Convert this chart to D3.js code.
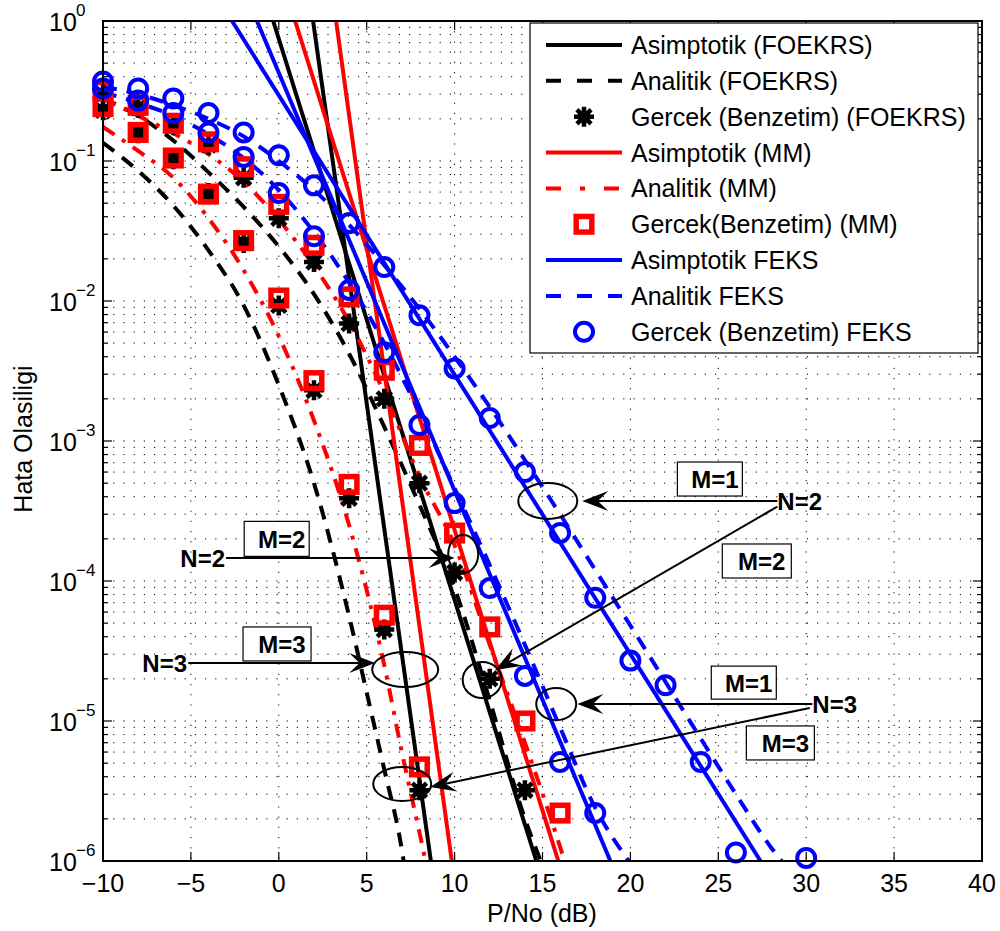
<!DOCTYPE html>
<html>
<head>
<meta charset="utf-8">
<script src="https://cdn.jsdelivr.net/npm/d3@7"></script>
<style>
body { margin: 0; background: #fff; }
text { font-family: "Liberation Sans", Arial, Helvetica, sans-serif; }
</style>
</head>
<body>
<div id="chart"></div>
<script>
// axis ticks
var xTicks = [-10, -5, 0, 5, 10, 15, 20, 25, 30, 35, 40];
var yDecades = [0, -1, -2, -3, -4, -5, -6];

// simulation markers, x = snr[i]
var snr = [-10, -8, -6, -4, -2, 0, 2, 4, 6, 8, 10, 12, 14, 16, 18, 20, 22, 24, 26, 28, 30];
var simFoekrsN2 = [0.3, 0.24, 0.18, 0.13, 0.076, 0.039, 0.019, 0.0069, 0.002, 0.0005, 1.15e-4, 2e-5, 3.2e-6];
var simFoekrsN3 = [0.23, 0.158, 0.103, 0.059, 0.026, 0.0093, 0.0023, 3.9e-4, 4.5e-5, 3.2e-6];
var simMmN2 = [0.32, 0.25, 0.186, 0.137, 0.091, 0.049, 0.025, 0.0107, 0.0032, 9.3e-4, 2.2e-4, 4.7e-5, 1e-5, 2.2e-6];
var simMmN3 = [0.245, 0.16, 0.105, 0.058, 0.027, 0.0105, 0.0027, 4.9e-4, 5.7e-5, 4.7e-6];
var simFeksN2 = [0.37, 0.33, 0.28, 0.22, 0.16, 0.11, 0.067, 0.036, 0.0175, 0.0079, 0.0033, 0.00146, 6e-4, 2.2e-4, 7.6e-5, 2.7e-5, 1.8e-5, 5.1e-6, 1.15e-6, null, 1.05e-6];
var simFeksN3 = [0.33, 0.27, 0.22, 0.16, 0.107, 0.059, 0.029, 0.012, 0.0043, 0.0013, 3.6e-4, 8.9e-5, 2.1e-5, 5.1e-6, 2.2e-6];

// analytic curves
var anaFoekrsN2X = [-10, -8, -6, -4, -2, 0, 2, 4, 6, 8, 10, 12, 14, 14.9];
var anaFoekrsN2 = [0.28, 0.21, 0.14, 0.083, 0.047, 0.0245, 0.0112, 0.0042, 0.00126, 3.5e-4, 8.9e-5, 1.4e-5, 2e-6, 1e-6];
var anaFoekrsN3X = [-10, -8, -6, -4, -2, 0, 2, 4, 5, 6, 7, 7.1];
var anaFoekrsN3 = [0.135, 0.085, 0.048, 0.023, 0.0093, 0.0025, 5e-4, 5.6e-5, 1.6e-5, 4.5e-6, 1.2e-6, 1e-6];
var anaMmN2X = [-10, -8, -6, -4, -2, 0, 2, 4, 6, 8, 10, 12, 14, 16, 16.25];
var anaMmN2 = [0.28, 0.21, 0.158, 0.112, 0.071, 0.038, 0.0178, 0.0071, 0.0022, 5.6e-4, 1.8e-4, 3.5e-5, 7e-6, 1.26e-6, 1e-6];
var anaMmN3X = [-10, -8, -6, -4, -2, 0, 2, 4, 6, 7, 8, 8.35];
var anaMmN3 = [0.175, 0.118, 0.076, 0.039, 0.0166, 0.0056, 0.0014, 2.5e-4, 2.5e-5, 6e-6, 1.6e-6, 1e-6];
var anaFeksN2X = [-10, -8, -6, -4, -2, 0, 2, 4, 6, 8, 10, 12, 14, 16, 18, 20, 22, 24, 26, 28, 28.6];
var anaFeksN2 = [0.34, 0.3, 0.25, 0.2, 0.15, 0.1, 0.062, 0.035, 0.018, 0.0088, 0.004, 0.00175, 7.3e-4, 3e-4, 1.2e-4, 4.8e-5, 1.9e-5, 7.5e-6, 3e-6, 1.25e-6, 1e-6];
var anaFeksN3X = [-10, -8, -6, -4, -2, 0, 2, 4, 6, 8, 10, 12, 14, 16, 18, 19.9];
var anaFeksN3 = [0.31, 0.26, 0.21, 0.155, 0.105, 0.062, 0.031, 0.0135, 0.005, 0.0016, 4.6e-4, 1.3e-4, 3.5e-5, 9e-6, 2.4e-6, 1e-6];

// asymptotes: x where the line crosses asymP
var asymP = [1, 1e-6];
var asymFoekrs = [[-0.32, 14.65], [1.95, 8.65]];
var asymMm = [[0.93, 15.9], [3.26, 9.84]];
var asymFeks = [[-2.66, 27.4], [-1.24, 18.86]];

var legendLabels = ["Asimptotik (FOEKRS)", "Analitik (FOEKRS)", "Gercek (Benzetim) (FOEKRS)",
  "Asimptotik (MM)", "Analitik (MM)", "Gercek(Benzetim) (MM)",
  "Asimptotik FEKS", "Analitik FEKS", "Gercek (Benzetim) FEKS"];

// annotations (data coords)
var noteTexts = [["N=2", -3.06, 1.46e-4, "end"], ["N=3", -5.22, 2.6e-5, "end"],
  ["N=2", 28.36, 3.73e-4, "start"], ["N=3", 30.35, 1.32e-5, "start"]];
var noteBoxes = [["M=2", -0.12, 2.0e-4, 65, 35], ["M=3", -0.1, 3.55e-5, 68, 34],
  ["M=1", 24.52, 5.35e-4, 65, 34], ["M=2", 27.19, 1.39e-4, 69, 34],
  ["M=1", 26.45, 1.88e-5, 65, 33], ["M=3", 28.53, 6.97e-6, 68, 34]];
var noteArrows = [[-3.0, 1.46e-4, 10.0, 1.46e-4], [-5.15, 2.6e-5, 5.48, 2.6e-5],
  [28.36, 3.73e-4, 17.26, 3.73e-4], [28.36, 3.4e-4, 12.31, 2.31e-5],
  [30.35, 1.32e-5, 16.98, 1.32e-5], [30.2, 1.24e-5, 8.61, 3.38e-6]];
var noteEllipses = [[10.49, 1.56e-4, 15, 19], [7.19, 2.33e-5, 33, 17.5], [15.3, 3.73e-4, 29.5, 18],
  [11.57, 1.96e-5, 19.5, 18], [15.78, 1.32e-5, 20, 16], [7.02, 3.55e-6, 29, 17]];

var margin = {left: 103, top: 21, right: 18, bottom: 70};
var width = 879, height = 840;

var svg = d3.select("#chart").append("svg")
  .attr("width", 1000).attr("height", 931);
var g = svg.append("g")
  .attr("transform", "translate(" + margin.left + "," + margin.top + ")");

var x = d3.scaleLinear().domain([-10, 40]).range([0, width]);
var y = d3.scaleLog().domain([1e-6, 1]).range([height, 0]);

svg.append("defs").append("clipPath").attr("id", "clip")
  .append("rect").attr("width", width).attr("height", height);

// grid
var yGrid = [];
yDecades.forEach((e) => { if (e < 0) for (var k = 1; k < 10; k++) yGrid.push(k * Math.pow(10, e)); });
yGrid.push(1);
var yInner = yGrid.filter((d) => d > 1e-6 && d < 1);
g.selectAll(".hgrid").data(yInner).join("line")
  .attr("x1", 0).attr("x2", width)
  .attr("y1", (d) => y(d)).attr("y2", (d) => y(d))
  .attr("stroke", "#000").attr("stroke-width", 1).attr("stroke-dasharray", "1.2,9");
g.selectAll(".vgrid").data(xTicks.slice(1, -1)).join("line")
  .attr("x1", (d) => x(d)).attr("x2", (d) => x(d))
  .attr("y1", 0).attr("y2", height)
  .attr("stroke", "#000").attr("stroke-width", 1).attr("stroke-dasharray", "1.2,9");

var zip = (xs, ps) => xs.map((v, i) => [v, ps[i]]).filter((d) => d[1] != null);
var line = d3.line().x((d) => x(d[0])).y((d) => y(d[1])).curve(d3.curveMonotoneX);
var plot = g.append("g").attr("clip-path", "url(#clip)");
var marks = g.append("g");

var LW = 4, DASH = "14,10", DASHDOT = "14,9,4,9";

function drawCurve(pts, color, dash) {
  plot.append("path").datum(pts)
    .attr("d", line).attr("fill", "none")
    .attr("stroke", color).attr("stroke-width", LW)
    .attr("stroke-dasharray", dash);
}

function marker(sel, type) {
  if (type === "star") {
    sel.append("path").attr("d", "M-10,0L10,0M0,-10L0,10M-7.1,-7.1L7.1,7.1M-7.1,7.1L7.1,-7.1")
      .attr("stroke", "#000").attr("stroke-width", 4.5);
    sel.append("circle").attr("r", 6.5).attr("fill", "#000");
  } else if (type === "square") {
    sel.append("rect").attr("x", -7.8).attr("y", -7.8).attr("width", 15.6).attr("height", 15.6)
      .attr("fill", "none").attr("stroke", "#f00").attr("stroke-width", 5.5);
  } else {
    sel.append("circle").attr("r", 9)
      .attr("fill", "none").attr("stroke", "#00f").attr("stroke-width", 4);
  }
}

function drawMarkers(vals, type) {
  var pts = zip(snr.slice(0, vals.length), vals);
  marks.selectAll(null).data(pts).join("g")
    .attr("transform", (d) => "translate(" + x(d[0]) + "," + y(d[1]) + ")")
    .each(function () { marker(d3.select(this), type); });
}

// FOEKRS
asymFoekrs.forEach((a) => drawCurve(zip(a, asymP), "#000", null));
drawCurve(zip(anaFoekrsN2X, anaFoekrsN2), "#000", DASH);
drawCurve(zip(anaFoekrsN3X, anaFoekrsN3), "#000", DASH);
drawMarkers(simFoekrsN2, "star");
drawMarkers(simFoekrsN3, "star");
// MM
asymMm.forEach((a) => drawCurve(zip(a, asymP), "#f00", null));
drawCurve(zip(anaMmN2X, anaMmN2), "#f00", DASHDOT);
drawCurve(zip(anaMmN3X, anaMmN3), "#f00", DASHDOT);
drawMarkers(simMmN2, "square");
drawMarkers(simMmN3, "square");
// FEKS
asymFeks.forEach((a) => drawCurve(zip(a, asymP), "#00f", null));
drawCurve(zip(anaFeksN2X, anaFeksN2), "#00f", DASH);
drawCurve(zip(anaFeksN3X, anaFeksN3), "#00f", DASH);
drawMarkers(simFeksN2, "circle");
drawMarkers(simFeksN3, "circle");

// annotations
var ann = g.append("g");
noteEllipses.forEach((e) => {
  ann.append("ellipse").attr("cx", x(e[0])).attr("cy", y(e[1]))
    .attr("rx", e[2]).attr("ry", e[3])
    .attr("fill", "none").attr("stroke", "#000").attr("stroke-width", 2);
});
noteArrows.forEach((a) => {
  var x1 = x(a[0]), y1 = y(a[1]), x2 = x(a[2]), y2 = y(a[3]);
  var ang = Math.atan2(y2 - y1, x2 - x1), ux = Math.cos(ang), uy = Math.sin(ang);
  var L = 26, W = 20;
  ann.append("line").attr("x1", x1).attr("y1", y1)
    .attr("x2", x2 - ux * L * 0.6).attr("y2", y2 - uy * L * 0.6)
    .attr("stroke", "#000").attr("stroke-width", 2);
  var bx = x2 - ux * L, by = y2 - uy * L;
  var pts = [[x2, y2], [bx - uy * W / 2, by + ux * W / 2],
    [x2 - ux * L * 0.6, y2 - uy * L * 0.6], [bx + uy * W / 2, by - ux * W / 2]];
  ann.append("polygon").attr("points", pts.map((p) => p.join(",")).join(" "))
    .attr("fill", "#000");
});
noteBoxes.forEach((b) => {
  var cx = x(b[1]), cy = y(b[2]);
  ann.append("rect").attr("x", cx - b[3] / 2).attr("y", cy - b[4] / 2)
    .attr("width", b[3]).attr("height", b[4])
    .attr("fill", "#fff").attr("stroke", "#000").attr("stroke-width", 1.2);
  ann.append("text").attr("x", cx + 5).attr("y", cy + 9)
    .attr("text-anchor", "middle").attr("font-size", "24px").attr("font-weight", "bold")
    .text(b[0]);
});
noteTexts.forEach((t) => {
  ann.append("text").attr("x", x(t[1])).attr("y", y(t[2]) + 9)
    .attr("text-anchor", t[3]).attr("font-size", "24px").attr("font-weight", "bold")
    .text(t[0]);
});

// axes box and ticks
g.append("rect").attr("width", width).attr("height", height)
  .attr("fill", "none").attr("stroke", "#000").attr("stroke-width", 2);
var tk = g.append("g").attr("stroke", "#000").attr("stroke-width", 1.2);
yInner.forEach((d) => {
  var major = Math.abs(Math.log10(d) - Math.round(Math.log10(d))) < 1e-9;
  var len = major ? 9 : 5;
  tk.append("line").attr("x1", 0).attr("x2", len).attr("y1", y(d)).attr("y2", y(d));
  tk.append("line").attr("x1", width).attr("x2", width - len).attr("y1", y(d)).attr("y2", y(d));
});
xTicks.forEach((d) => {
  tk.append("line").attr("x1", x(d)).attr("x2", x(d)).attr("y1", height).attr("y2", height - 9);
  tk.append("line").attr("x1", x(d)).attr("x2", x(d)).attr("y1", 0).attr("y2", 9);
});

// tick labels
g.selectAll(".xl").data(xTicks).join("text")
  .attr("x", (d) => x(d)).attr("y", height + 31)
  .attr("text-anchor", "middle").attr("font-size", "25px")
  .text((d) => d < 0 ? "\u2212" + Math.abs(d) : d);
yDecades.forEach((e) => {
  var yy = y(Math.pow(10, e));
  g.append("text").attr("x", -54).attr("y", yy + 10).attr("font-size", "25px").text("10");
  g.append("text").attr("x", -27).attr("y", yy - 5).attr("font-size", "17px")
    .text(e < 0 ? "\u2212" + Math.abs(e) : e);
});

// axis labels
svg.append("text").attr("x", 542).attr("y", 922)
  .attr("text-anchor", "middle").attr("font-size", "25px").text("P/No (dB)");
svg.append("text").attr("transform", "translate(32,439) rotate(-90)")
  .attr("text-anchor", "middle").attr("font-size", "25px").text("Hata Olasiligi");

// legend
var leg = svg.append("g");
leg.append("rect").attr("x", 530).attr("y", 23).attr("width", 448).attr("height", 330)
  .attr("fill", "#fff").attr("stroke", "#000").attr("stroke-width", 1.2);
var legStyle = [["#000", null, null], ["#000", "15,16", null], [null, null, "star"],
  ["#f00", null, null], ["#f00", "15,19,5,19", null], [null, null, "square"],
  ["#00f", null, null], ["#00f", "15,16", null], [null, null, "circle"]];
legendLabels.forEach((lab, i) => {
  var ry = 45 + i * 35.85;
  var s = legStyle[i];
  if (s[0]) {
    leg.append("line").attr("x1", 546).attr("x2", 622).attr("y1", ry).attr("y2", ry)
      .attr("stroke", s[0]).attr("stroke-width", LW).attr("stroke-dasharray", s[1]);
  } else {
    marker(leg.append("g").attr("transform", "translate(584," + ry + ")"), s[2]);
  }
  leg.append("text").attr("x", 631).attr("y", ry + 9).attr("font-size", "25px").text(lab);
});
</script>
</body>
</html>
